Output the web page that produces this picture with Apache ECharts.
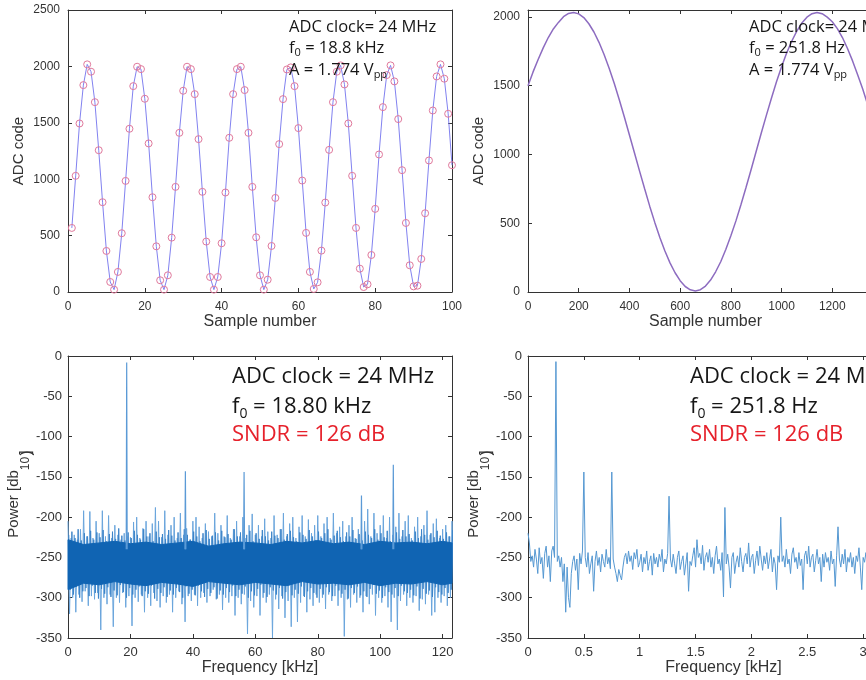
<!DOCTYPE html>
<html><head><meta charset="utf-8">
<script src="https://cdn.jsdelivr.net/npm/echarts@6/dist/echarts.min.js"></script>
<style>html,body{margin:0;padding:0;background:#fff;overflow:hidden}#c{width:1000px;height:680px}</style>
</head><body><div id="c"></div><script>
// ---------- DATA ----------
// Top-left: ADC code vs sample number (samples 1..100)
const tlValues = [568,1030,1494,1834,2018,1953,1683,1257,796,364,
  89,21,178,521,985,1447,1825,1997,1976,1713,
  1317,840,405,104,21,148,482,932,1411,1784,
  1997,1976,1754,1355,888,447,133,21,133,432,
  882,1367,1754,1976,1997,1790,1411,932,485,148,
  21,109,408,834,1311,1710,1973,1991,1825,1453,
  988,524,178,27,86,367,793,1260,1683,1953,
  2009,1840,1494,1030,568,207,44,68,328,737,
  1219,1639,1923,2009,1867,1533,1080,612,237,50,
  56,293,698,1166,1609,1911,2018,1891,1580,1124];
// Top-right: slow sine (readings every 20 samples, 0..1400)
const trStep = 20;
const trValues = [1500,1600,1690,1775,1850,1912,1960,2001,2025,2032,
  2022,1995,1950,1890,1815,1726,1627,1517,1397,1272,
  1141,1010,879,750,624,506,397,298,212,140,
  82,40,16,8,17,43,87,147,220,309,
  409,517,636,762,891,1023,1156,1284,1409,1528,
  1637,1737,1823,1896,1955,1998,2023,2032,2023,1998,
  1965,1915,1850,1770,1680,1580,1475,1360,1240,1110,
  980];
// Bottom-left: spectrum, 18.8 kHz tone
const blCoreFreq = [0,5,10,15,20,25,30,35,40,45,50,55,60,65,70,75,80,85,90,95,100,105,110,115,120,123];
const blCoreTop = [-228,-234,-232,-230,-233,-231,-234,-232,-230,-236,-233,-231,-232,-234,-230,-232,-229,-233,-231,-234,-230,-232,-231,-233,-230,-232];
const blCoreBottom = [-290,-282,-284,-280,-283,-285,-281,-283,-286,-280,-282,-284,-281,-283,-285,-280,-283,-282,-284,-281,-285,-282,-283,-280,-284,-282];
const blFringeTop = [-205,-226,-222,-228,-215,-192,-224,-193,-226,-205,
  -220,-192,-224,-198,-226,-210,-222,-228,-220,-224,
  -225,-206,-200,-226,-214,-205,-224,-208,-188,-205,
  -225,-192,-222,-210,-200,-226,-195,-222,-214,-228,
  -205,-200,-212,-226,-208,-218,-224,-195,-220,-210,
  -224,-198,-226,-215,-205,-224,-200,-226,-210,-196,
  -222,-210,-224,-202,-218,-226,-198,-222,-215,-195,
  -224,-208,-200,-226,-212,-198,-224,-203,-220,-210,
  -198,-224,-208,-200,-226,-195,-220,-212,-205,-224,
  -210,-200,-226,-215,-222,-205,-190,-224,-195,-220,
  -210,-198,-226,-200,-222,-212,-195,-224,-205,-198,
  -226,-212,-200,-224,-210,-192,-222,-208,-202,-226,
  -215,-210,-224,-205];
const blFringeBottom = [-320,-300,-318,-296,-305,-292,-310,-298,-302,-294,
  -340,-300,-308,-296,-336,-300,-306,-294,-312,-298,
  -335,-300,-305,-296,-318,-300,-310,-294,-304,-312,
  -298,-306,-296,-318,-300,-292,-308,-330,-298,-304,
  -296,-310,-300,-294,-306,-298,-290,-302,-296,-315,
  -300,-306,-298,-322,-300,-308,-296,-345,-304,-312,
  -298,-322,-300,-306,-296,-350,-302,-314,-298,-325,
  -304,-336,-300,-330,-306,-298,-318,-302,-310,-296,
  -306,-300,-314,-296,-304,-298,-310,-300,-348,-302,
  -312,-296,-306,-300,-318,-298,-308,-296,-322,-300,
  -306,-298,-312,-330,-300,-340,-304,-296,-310,-300,
  -306,-298,-316,-302,-308,-296,-322,-318,-300,-306,
  -298,-310,-300,-296];
const blFuzzTop = [-222,-218,-226,-215,-229,-220,-224,-217,-228,-219,
  -225,-216,-230,-221,-218,-227,-214,-223,-229,-219,
  -226,-217,-222,-228,-215,-224,-220,-230,-218,-225,
  -221,-227,-216,-223,-229,-219,-226,-215,-222,-228,
  -218,-224,-230,-220,-216,-227,-223,-219,-229,-217,
  -225,-221,-228,-215,-224,-219,-226,-222,-217,-230,
  -220,-227,-216,-224,-229,-218,-223,-226,-215,-228,
  -221,-217,-225,-230,-219,-222,-227,-216,-224,-229,
  -218,-226,-220,-215,-228,-223,-217,-225,-230,-219,
  -224,-216,-227,-221,-229,-218,-222,-226,-215,-228,
  -220,-225,-217,-230,-223,-219,-227,-216,-224,-221,
  -229,-218,-226,-215,-222,-228,-220,-225,-217,-223,
  -227,-219,-224,-216];
const blFuzzBottom = [-290,-296,-286,-300,-292,-288,-298,-285,-294,-301,
  -289,-295,-287,-299,-291,-297,-284,-293,-300,-288,
  -296,-290,-286,-298,-292,-295,-285,-301,-289,-294,
  -287,-299,-291,-296,-288,-293,-300,-286,-295,-290,
  -297,-285,-292,-299,-289,-294,-287,-301,-291,-296,
  -288,-293,-285,-298,-290,-295,-286,-300,-292,-297,
  -289,-284,-294,-299,-287,-291,-296,-288,-301,-293,
  -285,-297,-290,-295,-286,-299,-292,-288,-294,-300,
  -289,-296,-287,-293,-298,-285,-291,-295,-290,-301,
  -288,-294,-286,-297,-292,-299,-289,-284,-295,-291,
  -300,-287,-293,-296,-288,-298,-285,-292,-294,-290,
  -297,-286,-301,-289,-295,-291,-299,-287,-293,-296,
  -288,-294,-290,-298];
const blHarmFreq = [18.8, 37.6, 56.4, 94.0, 104.2];
const blHarmPower = [-8, -143, -144, -173, -135];
// Bottom-right: spectrum, 251.8 Hz tone (0.0125 kHz bins)
const brStep = 0.0125;
const brPower = [-220,-232,-255,-248,-262,-240,-252,-270,-238,-258,-250,-276,-245,-236,-262,-248,-280,-242,-236,-250,
  -7,
  -255,-248,-262,-250,-280,-258,-318,-262,-300,-312,-270,-255,-248,-266,-252,-290,-245,-258,-242,
  -144,
  -250,-262,-244,-270,-258,-248,-292,-255,-242,-260,-250,-268,-246,-255,-262,-240,-258,-250,-264,
  -144,
  -252,-262,-270,-280,-265,-272,-278,-262,-250,-245,
  -258,-242,-255,-248,-265,-244,-252,-240,-262,-256,
  -246,-268,-250,-258,-242,-266,-255,-248,-272,-245,
  -258,-250,-262,-246,-255,-240,-268,-252,-258,-245,
  -174,
  -252,-262,-246,-258,-270,-250,-242,-265,-255,-248,
  -272,-258,-244,-292,-255,-260,-248,-238,-262,-228,
  -250,-245,-258,-235,-266,-250,-244,-256,-240,-262,
  -250,-270,-248,-236,-258,-252,-266,-244,-299,
  -188,
  -258,-246,-262,-288,-250,-244,-270,-256,-248,-262,
  -238,-255,-268,-250,-245,-258,-232,-262,-250,-246,
  -270,-254,-242,-260,-236,-252,-266,-248,-258,-244,
  -264,-252,-240,-268,-250,-258,-290,-248,-256,
  -200,
  -255,-248,-262,-240,-258,-252,-270,-246,-238,-256,
  -250,-264,-244,-260,-252,-290,-248,-242,-258,-236,
  -262,-250,-246,-268,-254,-240,-258,-250,-280,-246,
  -262,-244,-256,-250,-266,-242,-258,-252,-286,-248,
  -212,
  -252,-262,-246,-258,-240,-268,-250,-256,-244,-262,
  -250,-270,-248,-255,-238,-262,-290,-250,-256,-244,
  -260,-248,-266,-252,-242,-258,-250,-264,-246,-256,
  -270,-250,-258];

// ---------- CHART ----------
const AX = '#333';
const LF = '"Liberation Sans", Arial, Helvetica, sans-serif';
const AF = '"Open Sans", "Noto Sans", sans-serif';

function axPair(dim, gridIndex, c) {
  const base = {type:'value', gridIndex, min:c.min, max:c.max, interval:c.interval,
    splitLine:{show:false},
    axisLine:{show:true, onZero:false, lineStyle:{color:AX, width:1}},
    axisTick:{show:true, inside:true, length:4, lineStyle:{color:AX}}};
  const main = Object.assign({}, base, {
    position: dim === 'x' ? 'bottom' : 'left',
    axisLabel:{show:true, color:'#333', fontSize:c.fs, fontFamily:LF, margin:c.margin,
      showMaxLabel:c.showMax !== false, formatter:(v)=>String(v)},
    name:c.name || '', nameLocation:'middle', nameGap:c.gap || 0, nameTextStyle:c.nameStyle});
  const mirror = Object.assign({}, base, {position: dim === 'x' ? 'top' : 'right', axisLabel:{show:false}});
  return [main, mirror];
}
const xNameStyle = {fontSize:16, color:'#333', fontFamily:LF};
const yNameStyle = {fontSize:15, color:'#333', fontFamily:LF};

const xAxes = [].concat(
  axPair('x',0,{min:0,max:100,interval:20,fs:12,margin:9,name:'Sample number',gap:22,nameStyle:xNameStyle}),
  axPair('x',1,{min:0,max:1400,interval:200,fs:12,margin:9,name:'Sample number',gap:22,nameStyle:xNameStyle}),
  axPair('x',2,{min:0,max:123,interval:20,fs:13,margin:8,name:'Frequency [kHz]',gap:22,nameStyle:xNameStyle,showMax:false}),
  axPair('x',3,{min:0,max:3.5,interval:0.5,fs:13,margin:8,name:'Frequency [kHz]',gap:22,nameStyle:xNameStyle})
);
const yAxes = [].concat(
  axPair('y',0,{min:0,max:2500,interval:500,fs:12,margin:8,name:'ADC code',gap:42,nameStyle:yNameStyle}),
  axPair('y',1,{min:0,max:2050,interval:500,fs:12,margin:8,name:'ADC code',gap:42,nameStyle:yNameStyle,showMax:false}),
  axPair('y',2,{min:-350,max:0,interval:50,fs:13,margin:6}),
  axPair('y',3,{min:-350,max:0,interval:50,fs:13,margin:6})
);

const series = [];
series.push({type:'line', xAxisIndex:0, yAxisIndex:0,
  data: tlValues.map((v,i)=>[i+1, v]),
  symbol:'circle', symbolSize:7, showSymbol:true,
  lineStyle:{color:'#8282f0', width:1},
  itemStyle:{color:'rgba(0,0,0,0)', borderColor:'#e0799c', borderWidth:1}});
series.push({type:'line', xAxisIndex:2, yAxisIndex:2, symbol:'none',
  data: trValues.map((v,i)=>[i*trStep, v]),
  lineStyle:{color:'#8d6cc0', width:1.5}});
// bottom-left: light fringe noise
const fringe = [];
blFringeTop.forEach((v,k)=>{ fringe.push([k, v]); fringe.push([k+0.5, blFringeBottom[k]]); });
series.push({type:'line', xAxisIndex:4, yAxisIndex:4, symbol:'none', data:fringe, z:2,
  lineStyle:{color:'#6aa5dc', width:1}});
const fuzz = [];
blFuzzTop.forEach((v,k)=>{ fuzz.push([k+0.25, v]); fuzz.push([k+0.75, blFuzzBottom[k]]); });
series.push({type:'line', xAxisIndex:4, yAxisIndex:4, symbol:'none', data:fuzz, z:2,
  lineStyle:{color:'#3d84c8', width:1}});
// bottom-left: dense noise core (polygon between envelopes)
series.push({type:'custom', xAxisIndex:4, yAxisIndex:4, z:3,
  data: blCoreFreq.map((f,i)=>[f, blCoreTop[i], blCoreBottom[i]]),
  encode:{x:0, y:[1,2]},
  renderItem:(params, api)=>{
    if (params.dataIndex !== 0) return null;
    const pts = [];
    blCoreFreq.forEach((f,i)=>pts.push(api.coord([f, blCoreTop[i]])));
    for (let i = blCoreFreq.length-1; i >= 0; i--) pts.push(api.coord([blCoreFreq[i], blCoreBottom[i]]));
    return {type:'polygon', shape:{points:pts}, style:{fill:'#1064b3', stroke:'#1064b3', lineWidth:1}};
  }});
blHarmFreq.forEach((f,i)=>{
  series.push({type:'line', xAxisIndex:4, yAxisIndex:4, symbol:'none', z:4,
    data:[[f-0.15,-240],[f, blHarmPower[i]],[f+0.15,-240]],
    lineStyle:{color:'#5b9ad6', width:1.2}});
});
// bottom-right
series.push({type:'line', xAxisIndex:6, yAxisIndex:6, symbol:'none',
  data: brPower.map((p,i)=>[i*brStep, p]),
  lineStyle:{color:'#5598d2', width:1}});

function ann(x, y, text, size, sub, lh, color) {
  return {type:'text', x, y, z:100, style:{text, fill:color, fontSize:size, fontFamily:AF,
    align:'left', verticalAlign:'middle',
    rich:{
      n:{fontSize:size, lineHeight:lh, fontFamily:AF, fill:color, color:color},
      s:{fontSize:sub, lineHeight:sub, verticalAlign:'bottom', fontFamily:AF, fill:color, color:color}}}};
}
function powerLabel(x, y) {
  return [{type:'text', x, y, rotation:Math.PI/2, z:100, style:{
    text:'{n|Power [db}{s|10}{h| }', fill:'#333', fontSize:15, fontFamily:LF,
    align:'center', verticalAlign:'middle',
    rich:{
      n:{fontSize:15, lineHeight:16, verticalAlign:'top', fontFamily:LF, fill:'#333'},
      s:{fontSize:12, lineHeight:12, verticalAlign:'bottom', fontFamily:LF, fill:'#333'},
      h:{fontSize:2, lineHeight:26, fontFamily:LF, fill:'#333'}}}},
  {type:'text', x:x+8, y:y-44, rotation:Math.PI/2, z:100, style:{
    text:')', fill:'#333', fontSize:15, fontFamily:LF, align:'center', verticalAlign:'middle'}},
  {type:'text', x:x+8, y:y-44, rotation:Math.PI/2, z:101, style:{
    text:'\u005D', fill:'#333', fontSize:15, fontFamily:'"DejaVu Sans", sans-serif', align:'center', verticalAlign:'middle'}}];
}
const BLK = '#161616', RED = '#e6212b';
const graphic = [
  ann(289, 27, '{n|ADC clock= 24 MHz}', 16.5, 11, 20, BLK),
  ann(289, 48, '{n|f}{s|0}{n| = 18.8 kHz}', 16.5, 11, 20, BLK),
  ann(289, 70, '{n|A = 1.774 V}{s|pp}', 16.5, 11, 20, BLK),
  ann(749, 27, '{n|ADC clock= 24 MHz}', 16.5, 11, 20, BLK),
  ann(749, 48, '{n|f}{s|0}{n| = 251.8 Hz}', 16.5, 11, 20, BLK),
  ann(749, 70, '{n|A = 1.774 V}{s|pp}', 16.5, 11, 20, BLK),
  ann(232, 377, '{n|ADC clock = 24 MHz}', 22, 14, 28, BLK),
  ann(232, 407, '{n|f}{s|0}{n| = 18.80 kHz}', 22, 14, 28, BLK),
  ann(232, 435, '{n|SNDR = 126 dB}', 22, 14, 28, RED),
  ann(690, 377, '{n|ADC clock = 24 MHz}', 22, 14, 28, BLK),
  ann(690, 407, '{n|f}{s|0}{n| = 251.8 Hz}', 22, 14, 28, BLK),
  ann(690, 435, '{n|SNDR = 126 dB}', 22, 14, 28, RED)
].concat(powerLabel(19, 497), powerLabel(479, 497));

const chart = echarts.init(document.getElementById('c'), null, {renderer:'canvas'});
chart.setOption({
  animation:false,
  backgroundColor:'#fff',
  grid:[
    {left:68, top:10, width:384, height:282},
    {left:528, top:10, width:355, height:282},
    {left:68, top:356, width:384, height:282},
    {left:528, top:356, width:391, height:282}
  ],
  xAxis:xAxes, yAxis:yAxes, series, graphic
});
</script></body></html>
